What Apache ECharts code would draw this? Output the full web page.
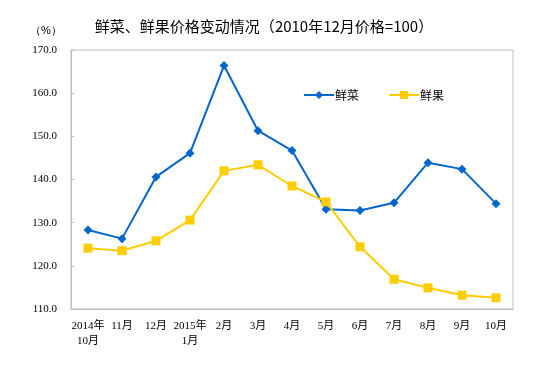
<!DOCTYPE html>
<html><head><meta charset="utf-8">
<script src="https://cdn.jsdelivr.net/npm/echarts@6/dist/echarts.min.js"></script>
<style>html,body{margin:0;padding:0;background:#fff}#c{width:551px;height:378px}</style>
</head><body><div id="c"></div>
<script>
const categories = ['2014年\n10月','11月','12月','2015年\n1月','2月','3月','4月','5月','6月','7月','8月','9月','10月'];
const vegetables = [128.3,126.3,140.6,146.1,166.4,151.3,146.7,133.1,132.8,134.6,143.9,142.4,134.4];
const fruits = [124.1,123.5,125.8,130.6,142.0,143.4,138.5,134.8,124.4,116.9,114.9,113.2,112.6];
const seriesNames = ['鲜菜','鲜果'];
const yTicks = {min:110, max:170, interval:10};
const chart = echarts.init(document.getElementById('c'));
const ff = '"Liberation Serif","Noto Sans CJK SC",serif';
chart.setOption({
  animation:false,
  title:{text:'鲜菜、鲜果价格变动情况（2010年12月价格=100）', left:259, textAlign:'center', top:14,
    textStyle:{fontSize:15, fontWeight:'normal', color:'#000', fontFamily:'"Noto Sans CJK SC",sans-serif'}},
  graphic:[{type:'text', left:30, top:25, style:{text:'（%）', fontSize:11, fill:'#000', font:'11px "Noto Sans CJK SC"'}}],
  legend:{left:303, top:89, padding:0, itemWidth:30, itemHeight:10, itemGap:29,
    textStyle:{fontSize:12, color:'#000', fontFamily:'"Noto Sans CJK SC",sans-serif', padding:[0,0,0,-4]}},
  grid:{left:71, top:50, right:38, bottom:69, show:true, borderColor:'#bfbfbf', borderWidth:1},
  xAxis:{type:'category', data:categories, boundaryGap:true,
    axisLine:{lineStyle:{color:'#bfbfbf'}}, axisTick:{show:false},
    axisLabel:{color:'#000', fontSize:11, lineHeight:15, margin:10, interval:0, fontFamily:ff}},
  yAxis:{type:'value', min:yTicks.min, max:yTicks.max, interval:yTicks.interval,
    axisLine:{show:true, lineStyle:{color:'#bfbfbf'}}, axisTick:{show:true, inside:true, length:3, lineStyle:{color:'#bfbfbf'}},
    splitLine:{show:false},
    axisLabel:{color:'#000', fontSize:11, margin:14, fontFamily:ff, formatter:v=>v.toFixed(1)}},
  series:[
    {name:seriesNames[0], type:'line', data:vegetables, symbol:'diamond', symbolSize:9,
      lineStyle:{color:'#0066CC', width:2}, itemStyle:{color:'#0066CC'}},
    {name:seriesNames[1], type:'line', data:fruits, symbol:'rect', symbolSize:9,
      lineStyle:{color:'#FFCC00', width:2}, itemStyle:{color:'#FFCC00'}}
  ]
});
</script></body></html>
